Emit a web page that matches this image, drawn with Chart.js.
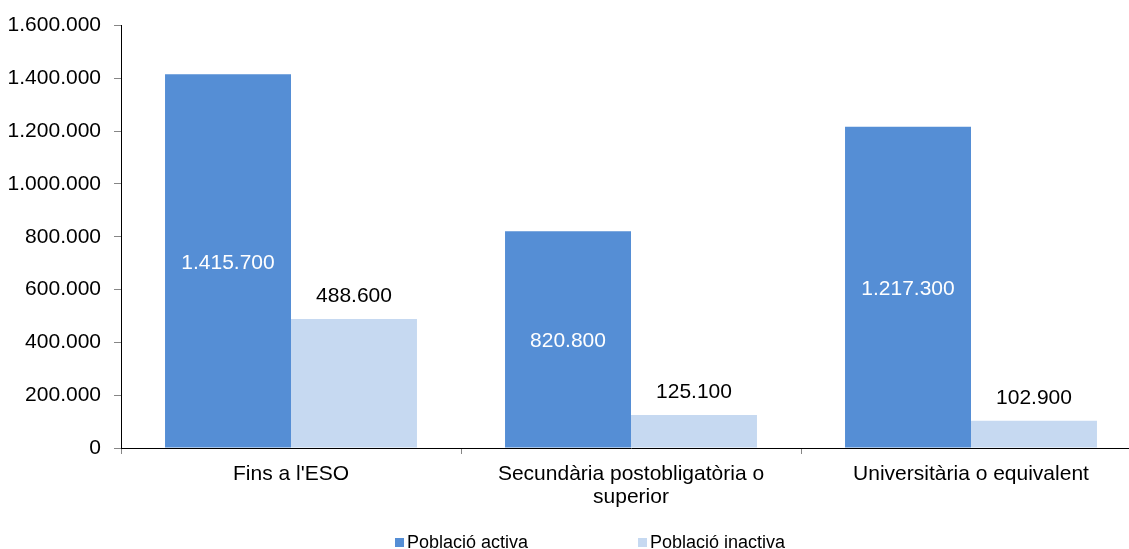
<!DOCTYPE html>
<html>
<head>
<meta charset="utf-8">
<script src="https://cdn.jsdelivr.net/npm/chart.js@4/dist/chart.umd.min.js"></script>
<style>
html,body{margin:0;padding:0;background:#fff;overflow:hidden;width:1129px;height:549px;}
canvas{display:block;}
</style>
</head>
<body>
<canvas id="c" width="1160" height="549"></canvas>
<script>
const categories = [["Fins a l'ESO"], ["Secundària postobligatòria o", "superior"], ["Universitària o equivalent"]];
const seriesNames = ["Població activa", "Població inactiva"];
const activa = [1415700, 820800, 1217300];
const inactiva = [488600, 125100, 102900];
const yTicks = [0, 200000, 400000, 600000, 800000, 1000000, 1200000, 1400000, 1600000];
const colors = ["#558ED5", "#C6D9F1"];

const FONT = "'Liberation Sans', Arial, sans-serif";
function fmt(v) { return String(Math.round(v)).replace(/\B(?=(\d{3})+(?!\d))/g, "."); }

const labelPlugin = {
  id: 'valueLabels',
  afterDatasetsDraw(chart) {
    const ctx = chart.ctx;
    ctx.save();
    ctx.font = "21px " + FONT;
    ctx.textAlign = 'center';
    ctx.textBaseline = 'middle';
    chart.data.datasets.forEach((ds, di) => {
      const meta = chart.getDatasetMeta(di);
      meta.data.forEach((bar, i) => {
        const v = ds.data[i];
        if (di === 0) {
          ctx.fillStyle = '#FFFFFF';
          ctx.fillText(fmt(v), bar.x, (bar.y + bar.base) / 2 + 2);
        } else {
          ctx.fillStyle = '#000000';
          ctx.fillText(fmt(v), bar.x, bar.y - 23);
        }
      });
    });
    ctx.restore();
  }
};

const legendPlugin = {
  id: 'customLegend',
  afterDraw(chart) {
    const ctx = chart.ctx;
    ctx.save();
    ctx.font = "18px " + FONT;
    ctx.textAlign = 'left';
    ctx.textBaseline = 'middle';
    const xs = [395, 638];
    chart.data.datasets.forEach((ds, di) => {
      ctx.fillStyle = ds.backgroundColor;
      ctx.fillRect(xs[di], 538, 9, 9);
      ctx.fillStyle = '#000';
      ctx.fillText(ds.label, xs[di] + 12, 543);
    });
    ctx.restore();
  }
};

new Chart(document.getElementById('c'), {
  type: 'bar',
  data: {
    labels: categories,
    datasets: [
      { label: seriesNames[0], data: activa, backgroundColor: colors[0], borderWidth: 0 },
      { label: seriesNames[1], data: inactiva, backgroundColor: colors[1], borderWidth: 0 }
    ]
  },
  options: {
    responsive: false,
    animation: false,
    layout: { padding: { left: 0, right: 19, top: 24, bottom: 0 } },
    plugins: { legend: { display: false }, tooltip: { enabled: false } },
    datasets: { bar: { categoryPercentage: 0.741, barPercentage: 1.0 } },
    scales: {
      x: {
        offset: true,
        grid: { offset: true, drawOnChartArea: false, drawTicks: true, tickLength: 6, color: '#868686' },
        border: { display: true, color: '#000', width: 1 },
        ticks: { color: '#000', font: { family: FONT, size: 21, lineHeight: 1.08 }, padding: 9, maxRotation: 0, autoSkip: false },
        afterFit(scale) { scale.height = 101; }
      },
      y: {
        min: 0, max: 1600000,
        afterBuildTicks(scale) { scale.ticks = yTicks.map(v => ({ value: v })); },
        grid: { drawOnChartArea: false, drawTicks: true, tickLength: 7, color: '#868686' },
        border: { display: true, color: '#000', width: 1 },
        ticks: { color: '#000', font: { family: FONT, size: 21 }, padding: 13, callback: v => fmt(v) },
        afterFit(scale) { scale.width = 121; }
      }
    }
  },
  plugins: [labelPlugin, legendPlugin]
});
</script>
</body>
</html>
